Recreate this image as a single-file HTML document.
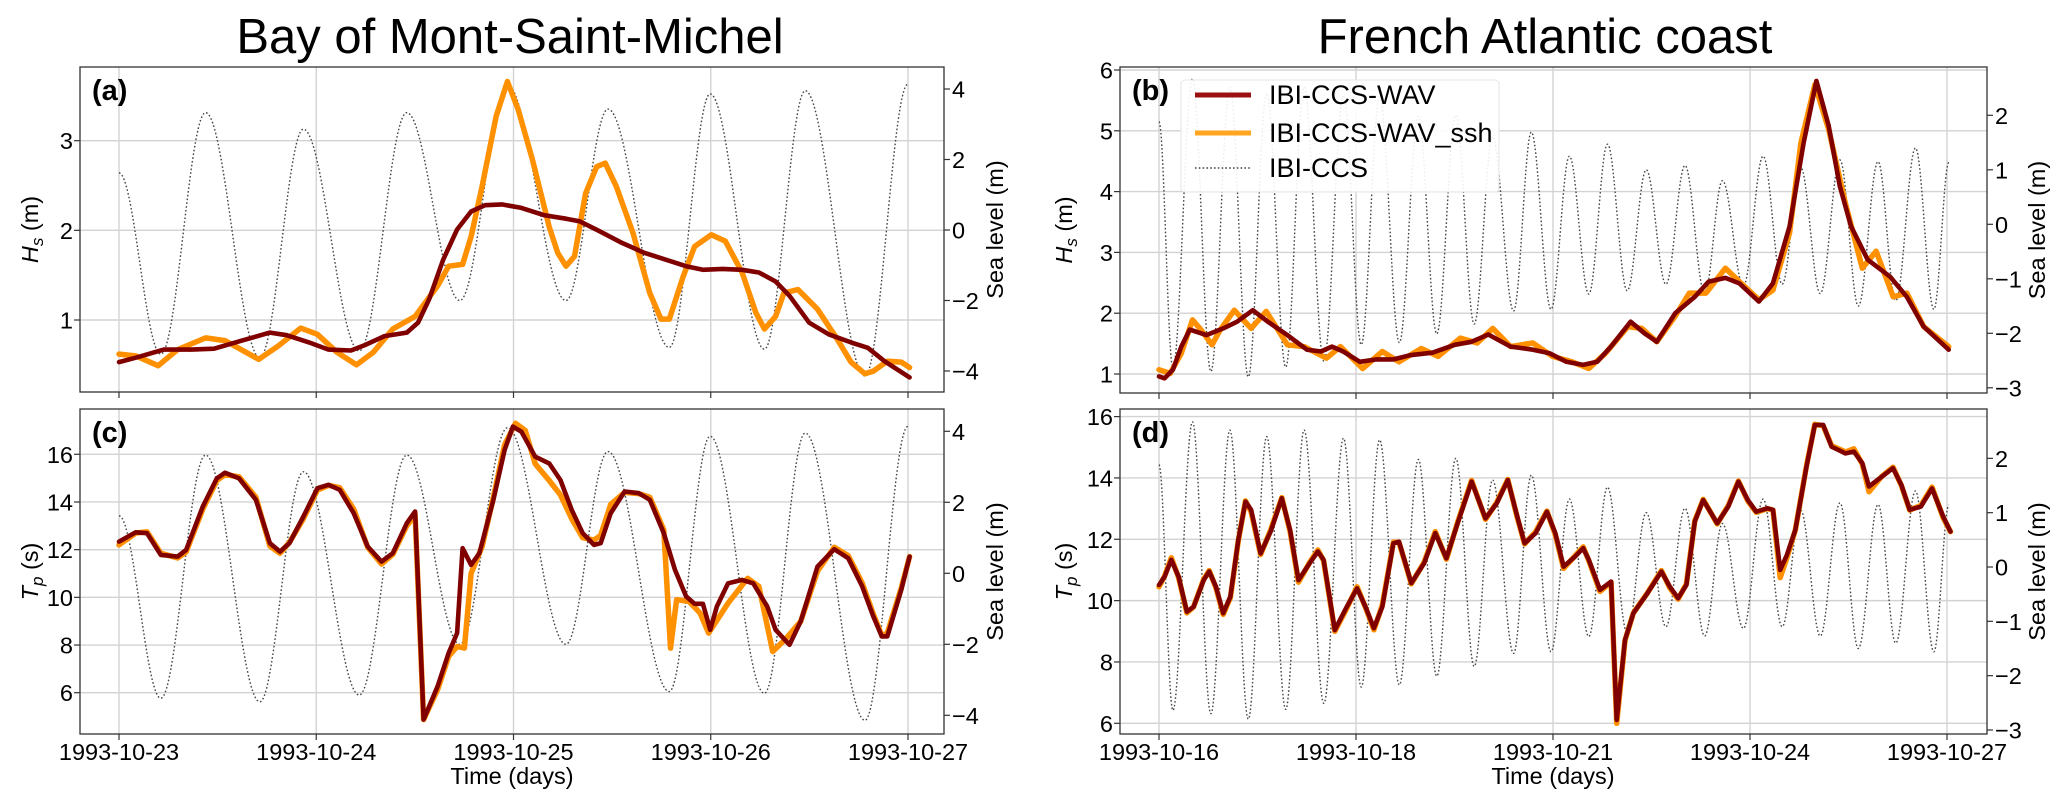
<!DOCTYPE html>
<html><head><meta charset="utf-8"><style>
html,body{margin:0;padding:0;background:#fff}
svg{display:block;font-family:"Liberation Sans",sans-serif}
</style></head><body>
<svg id="fig" width="2067" height="809" viewBox="0 0 2067 809" xmlns="http://www.w3.org/2000/svg">
<text x="510" y="53" font-size="49" text-anchor="middle">Bay of Mont-Saint-Michel</text>
<text x="1545" y="53" font-size="49" text-anchor="middle">French Atlantic coast</text>
<text x="512" y="784" font-size="23.5" text-anchor="middle">Time (days)</text>
<text x="1553" y="784" font-size="23.5" text-anchor="middle">Time (days)</text>
</svg>
<script>
// ---- data ----
const ticksA=["1993-10-23","1993-10-24","1993-10-25","1993-10-26","1993-10-27"];
const ticksB=["1993-10-16","1993-10-18","1993-10-21","1993-10-24","1993-10-27"];
const tideAt=[0,0.212,0.439,0.714,0.935,1.218,1.459,1.728,1.97,2.266,2.479,2.79,2.997,3.272,3.479,3.782,4.0];
const tideAv=[1.62,-3.52,3.33,-3.62,2.86,-3.43,3.33,-2.0,4.1,-2.0,3.43,-3.33,3.86,-3.38,3.95,-4.14,4.14];
const hsAssh_t=[0,0.085,0.198,0.297,0.439,0.538,0.708,0.807,0.921,1.006,1.105,1.204,1.289,1.388,1.501,1.615,1.671,1.742,1.785,1.841,1.912,1.969,2.025,2.096,2.181,2.224,2.266,2.309,2.365,2.422,2.465,2.521,2.606,2.691,2.748,2.79,2.861,2.918,3.003,3.074,3.159,3.229,3.272,3.329,3.371,3.442,3.541,3.64,3.711,3.782,3.824,3.895,3.966,4.008];
const hsAssh_v=[0.62,0.6,0.49,0.67,0.8,0.77,0.56,0.71,0.91,0.84,0.64,0.5,0.64,0.9,1.04,1.38,1.6,1.62,1.93,2.49,3.27,3.66,3.34,2.79,2.04,1.75,1.6,1.71,2.41,2.71,2.75,2.49,1.97,1.3,1.01,1.01,1.49,1.82,1.95,1.88,1.53,1.08,0.9,1.04,1.3,1.34,1.12,0.79,0.53,0.4,0.43,0.54,0.53,0.47];
const hsAwav_t=[0,0.085,0.227,0.368,0.482,0.623,0.765,0.85,0.963,1.062,1.176,1.246,1.346,1.459,1.516,1.572,1.643,1.714,1.785,1.856,1.941,2.04,2.153,2.266,2.337,2.436,2.55,2.663,2.776,2.875,2.96,3.059,3.159,3.244,3.329,3.399,3.499,3.598,3.711,3.796,3.881,4.008];
const hsAwav_v=[0.53,0.58,0.67,0.67,0.68,0.77,0.86,0.83,0.75,0.67,0.66,0.72,0.82,0.86,0.97,1.23,1.67,2.01,2.21,2.28,2.29,2.25,2.17,2.13,2.1,1.99,1.86,1.75,1.67,1.6,1.56,1.57,1.56,1.53,1.43,1.27,0.97,0.84,0.75,0.69,0.54,0.36];
const tpCwav_t=[0,0.085,0.142,0.212,0.297,0.34,0.425,0.496,0.538,0.609,0.694,0.765,0.816,0.864,0.935,1.006,1.062,1.119,1.19,1.261,1.331,1.388,1.459,1.501,1.521,1.544,1.615,1.671,1.714,1.742,1.785,1.827,1.898,1.955,1.997,2.04,2.11,2.181,2.238,2.295,2.351,2.408,2.442,2.493,2.564,2.635,2.691,2.762,2.819,2.875,2.918,2.96,2.997,3.031,3.088,3.159,3.215,3.286,3.329,3.399,3.456,3.541,3.626,3.697,3.768,3.824,3.867,3.895,3.966,4.008];
const tpCwav_v=[12.34,12.73,12.69,11.78,11.71,11.99,13.81,14.99,15.23,14.99,14.09,12.27,11.92,12.27,13.39,14.58,14.72,14.51,13.53,12.13,11.5,11.85,13.11,13.6,9.62,4.87,6.27,7.66,8.5,12.06,11.36,11.85,14.09,16.18,17.16,16.95,15.9,15.62,14.92,13.67,12.69,12.2,12.27,13.53,14.44,14.37,14.09,12.69,11.15,10.04,9.73,9.73,8.64,9.62,10.59,10.73,10.59,9.62,8.64,8.01,8.99,11.29,12.02,11.64,10.46,9.2,8.36,8.36,10.32,11.71];
const tpCssh_t=[0,0.085,0.142,0.212,0.297,0.34,0.425,0.496,0.538,0.609,0.694,0.765,0.816,0.864,0.935,1.006,1.062,1.119,1.19,1.261,1.331,1.388,1.459,1.501,1.544,1.615,1.671,1.714,1.751,1.785,1.841,1.898,1.955,2.01,2.06,2.11,2.181,2.238,2.295,2.351,2.408,2.442,2.493,2.564,2.635,2.691,2.762,2.796,2.827,2.889,2.946,2.989,3.088,3.187,3.244,3.314,3.376,3.456,3.541,3.626,3.697,3.768,3.824,3.867,3.895,3.966,4.008];
const tpCssh_v=[12.2,12.7,12.75,11.85,11.65,11.9,13.7,14.9,15.15,15.05,14.2,12.15,11.85,12.3,13.3,14.5,14.7,14.6,13.7,12.1,11.4,11.8,13.0,13.46,4.87,6.13,7.52,7.94,7.87,11.01,12.13,14.2,16.4,17.3,17.0,15.6,14.9,14.3,13.3,12.5,12.4,12.6,13.9,14.4,14.35,14.2,12.83,7.87,9.9,9.83,9.34,8.5,9.76,10.8,10.46,7.73,8.22,8.99,11.1,12.1,11.75,10.6,9.3,8.4,8.5,10.4,11.71];
const tideBt=[0,0.212,0.51,0.79,1.08,1.36,1.64,1.93,2.21,2.51,2.81,3.08,3.36,3.66,3.95,4.23,4.52,4.8,5.08,5.4,5.67,5.97,6.25,6.545,6.83,7.13,7.42,7.72,8.01,8.31,8.58,8.9,9.2,9.49,9.77,10.07,10.37,10.65,10.95,11.22,11.52,11.8,12.03];
const tideBv=[1.88,-2.64,2.67,-2.7,2.52,-2.8,2.4,-2.62,2.52,-2.51,2.37,-2.21,2.34,-2.17,1.98,-2.01,2.0,-1.83,1.6,-1.59,1.69,-1.56,1.25,-1.28,1.47,-1.22,1.0,-1.1,1.08,-1.27,0.8,-1.13,1.25,-1.1,1.05,-1.27,1.18,-1.5,1.15,-1.4,1.4,-1.56,1.14];
const hsBwav_t=[0,0.085,0.212,0.34,0.467,0.722,0.977,1.19,1.428,1.657,1.955,2.252,2.465,2.635,2.805,3.059,3.314,3.569,3.824,4.164,4.504,4.759,5.014,5.354,5.694,5.949,6.204,6.459,6.671,6.884,7.181,7.394,7.581,7.861,8.159,8.371,8.626,8.839,9.136,9.348,9.603,9.816,10.011,10.198,10.368,10.538,10.793,11.133,11.388,11.643,12.026];
const hsBwav_v=[0.96,0.93,1.07,1.45,1.73,1.64,1.75,1.86,2.05,1.86,1.64,1.4,1.37,1.45,1.37,1.2,1.24,1.24,1.31,1.35,1.48,1.53,1.65,1.45,1.4,1.34,1.2,1.15,1.2,1.45,1.86,1.67,1.53,2.0,2.27,2.52,2.58,2.49,2.19,2.49,3.43,4.8,5.82,5.08,4.09,3.43,2.88,2.6,2.27,1.78,1.4];
const hsBssh_t=[0,0.17,0.34,0.51,0.637,0.807,0.935,1.147,1.402,1.632,1.955,2.21,2.55,2.762,3.102,3.4,3.655,3.995,4.25,4.59,4.845,5.083,5.354,5.694,5.992,6.29,6.545,6.8,7.14,7.352,7.581,7.861,8.075,8.33,8.626,8.839,9.136,9.348,9.603,9.775,9.988,10.198,10.453,10.71,10.92,11.18,11.39,11.645,12.026];
const hsBssh_v=[1.07,1.01,1.34,1.89,1.73,1.48,1.73,2.05,1.75,2.03,1.48,1.45,1.26,1.45,1.09,1.37,1.2,1.42,1.29,1.59,1.51,1.75,1.45,1.51,1.29,1.2,1.09,1.34,1.78,1.75,1.53,1.95,2.33,2.33,2.74,2.52,2.22,2.38,3.32,4.8,5.76,5.02,3.81,2.74,3.02,2.27,2.33,1.78,1.45];
const tpD_t=[0,0.085,0.187,0.298,0.425,0.527,0.68,0.765,0.867,0.977,1.088,1.207,1.317,1.402,1.547,1.7,1.87,1.997,2.125,2.295,2.42,2.507,2.677,2.847,3.017,3.145,3.272,3.4,3.57,3.655,3.842,4.037,4.207,4.377,4.547,4.76,4.972,5.142,5.312,5.457,5.567,5.737,5.907,6.035,6.162,6.332,6.46,6.545,6.715,6.885,6.97,7.097,7.225,7.437,7.65,7.777,7.905,8.032,8.16,8.287,8.5,8.67,8.823,8.967,9.095,9.265,9.35,9.46,9.562,9.69,9.86,9.987,10.115,10.242,10.455,10.582,10.71,10.812,11.007,11.177,11.305,11.432,11.602,11.772,11.942,12.053];
const tpDwav_v=[10.51,10.78,11.33,10.78,9.64,9.8,10.67,10.95,10.46,9.59,10.13,11.98,13.23,12.96,11.54,12.25,13.34,12.3,10.67,11.22,11.6,11.33,9.04,9.75,10.4,9.8,9.1,9.8,11.87,11.92,10.57,11.22,12.2,11.38,12.52,13.88,12.68,13.17,13.93,12.74,11.87,12.2,12.9,12.2,11.11,11.43,11.71,11.33,10.35,10.62,6.11,8.72,9.59,10.24,10.95,10.46,10.08,10.51,12.58,13.28,12.52,13.07,13.88,13.28,12.9,13.01,12.96,11.0,11.49,12.3,14.37,15.73,15.73,15.02,14.8,14.86,14.48,13.72,14.04,14.32,13.77,12.96,13.07,13.66,12.74,12.25];
const tpDssh_v=[10.45,10.8,11.4,10.75,9.6,9.8,10.7,10.98,10.42,9.55,10.1,11.95,13.25,12.9,11.5,12.3,13.36,12.25,10.6,11.25,11.65,11.3,9.0,9.7,10.45,9.78,9.05,9.85,11.9,11.9,10.55,11.25,12.25,11.35,12.55,13.92,12.65,13.2,13.95,12.7,11.85,12.25,12.92,12.15,11.05,11.45,11.75,11.3,10.3,10.6,6.0,8.7,9.6,10.25,10.98,10.42,10.05,10.55,12.6,13.3,12.5,13.1,13.9,13.25,12.88,13.0,12.95,10.75,11.4,12.3,14.4,15.75,15.7,15.05,14.85,14.95,14.45,13.55,14.05,14.35,13.75,12.95,13.1,13.7,12.7,12.25];

// ---- drawing ----
const NS="http://www.w3.org/2000/svg";
const svg=document.getElementById('fig');
function mk(tag,at,parent){const e=document.createElementNS(NS,tag);for(const k in at)e.setAttribute(k,at[k]);(parent||svg).appendChild(e);return e;}
const ORANGE="#ff9000", RED="#800000";
const FS=23.5;

function panel(cfg){
  const g=mk('g',{});
  
  
  const {L,R,T,B,x0,x1,xt0,xt1}=cfg;
  const xs=d=>xt0+(d-x0)/(x1-x0)*(xt1-xt0);
  const ys=v=>cfg.yPx0+(v-cfg.yV0)*cfg.yK;
  const ys2=v=>cfg.sPx0-v*cfg.sK;
  const cp=mk('clipPath',{id:'clip-'+cfg.name},g);
  mk('rect',{x:L,y:T,width:R-L,height:B-T},cp);
  for(let i=0;i<cfg.xticks.length;i++){
    const x=xs(x0+i*(x1-x0)/(cfg.xticks.length-1));
    const gl=mk('line',{x1:x,x2:x,y1:T,y2:B,stroke:'#d3d3d3','stroke-width':1.4},g);
    
    
    mk('line',{x1:x,x2:x,y1:B,y2:B+6,stroke:'#333','stroke-width':1.2},g);
    if(cfg.showX){
      const t=mk('text',{x:x,y:760,'font-size':FS,'text-anchor':'middle'},g);
      t.textContent=cfg.xticks[i];
      
      
    }
  }
  cfg.yticks.forEach(v=>{
    const y=ys(v);
    const gl=mk('line',{x1:L,x2:R,y1:y,y2:y,stroke:'#d3d3d3','stroke-width':1.4},g);
    
    
    mk('line',{x1:L-6,x2:L,y1:y,y2:y,stroke:'#333','stroke-width':1.2},g);
    const t=mk('text',{x:L-7,y:y+8.5,'font-size':FS,'text-anchor':'end'},g);
    t.textContent=String(v);
    
    
  });
  cfg.sticks.forEach(v=>{
    const y=ys2(v);
    mk('line',{x1:R,x2:R+6,y1:y,y2:y,stroke:'#333','stroke-width':1.2},g);
    const t=mk('text',{x:R+8,y:y+8.5,'font-size':FS},g);
    t.textContent=(v<0?'\u2212':'')+Math.abs(v);
    
    
  });
  let d='';
  for(let i=0;i<cfg.tideT.length;i++){
    const x=xs(cfg.tideT[i]),y=ys2(cfg.tideV[i]);
    if(i===0)d+='M'+x+','+y;else{const px=xs(cfg.tideT[i-1]),py=ys2(cfg.tideV[i-1]);const dx=(x-px)*0.36;d+='C'+(px+dx)+','+py+' '+(x-dx)+','+y+' '+x+','+y;}
  }
  const tide=mk('path',{d:d,fill:'none',stroke:'#444','stroke-width':1.4,'stroke-dasharray':'1.6,2.2','clip-path':'url(#clip-'+cfg.name+')'},g);
  
  
  function line(ts,vs,col,w,nm){
    const pts=ts.map((t,i)=>xs(t).toFixed(1)+','+ys(vs[i]).toFixed(1)).join(' ');
    const p=mk('polyline',{points:pts,fill:'none',stroke:col,'stroke-width':w,'stroke-linejoin':'round','stroke-linecap':'round','clip-path':'url(#clip-'+cfg.name+')'},g);
    
    
  }
  line(cfg.sshT,cfg.sshV,ORANGE,5.5,'ibi-ccs-wav-ssh-line');
  line(cfg.wavT,cfg.wavV,RED,4.6,'ibi-ccs-wav-line');
  const fr=mk('rect',{x:L,y:T,width:R-L,height:B-T,fill:'none',stroke:'#333','stroke-width':1.3},g);
  
  
  const lb=mk('text',{x:L+12,y:T+33,'font-size':29,'font-weight':'bold'},g);
  lb.textContent=cfg.label;
  
  
  const yl=mk('text',{x:0,y:0,'font-size':FS,'text-anchor':'middle',transform:'translate('+cfg.ylx+','+((T+B)/2)+') rotate(-90)'},g);
  yl.innerHTML=cfg.ylab;
  
  
  const sl=mk('text',{x:0,y:0,'font-size':FS,'text-anchor':'middle',transform:'translate('+cfg.slx+','+((T+B)/2)+') rotate(-90)'},g);
  sl.textContent='Sea level (m)';
  
  
  return g;
}
const HS='<tspan font-style="italic">H</tspan><tspan font-style="italic" font-size="17" dy="5">s</tspan><tspan dy="-5"> (m)</tspan>';
const TP='<tspan font-style="italic">T</tspan><tspan font-style="italic" font-size="17" dy="5">p</tspan><tspan dy="-5"> (s)</tspan>';
const A={L:80,R:944,xt0:119,xt1:908,x0:0,x1:4,xticks:ticksA,tideT:tideAt,tideV:tideAv,slx:1003,ylx:38};
const Bc={L:1120,R:1987,xt0:1159,xt1:1947,x0:0,x1:12,xticks:ticksB,tideT:tideBt,tideV:tideBv,slx:2045,ylx:1072};
panel(Object.assign({},A,{name:'panel-a',T:67,B:392,label:'(a)',ylab:HS,yPx0:320,yV0:1,yK:-89.65,sPx0:230,sK:35.25,yticks:[1,2,3],sticks:[-4,-2,0,2,4],sshT:hsAssh_t,sshV:hsAssh_v,wavT:hsAwav_t,wavV:hsAwav_v,showX:false}));
panel(Object.assign({},A,{name:'panel-c',T:409,B:734,label:'(c)',ylab:TP,yPx0:692.7,yV0:6,yK:-23.84,sPx0:573.3,sK:35.5,yticks:[6,8,10,12,14,16],sticks:[-4,-2,0,2,4],sshT:tpCssh_t,sshV:tpCssh_v,wavT:tpCwav_t,wavV:tpCwav_v,showX:true}));
panel(Object.assign({},Bc,{name:'panel-b',T:67,B:393,label:'(b)',ylab:HS,yPx0:374,yV0:1,yK:-60.8,sPx0:224.3,sK:54.5,yticks:[1,2,3,4,5,6],sticks:[-3,-2,-1,0,1,2],sshT:hsBssh_t,sshV:hsBssh_v,wavT:hsBwav_t,wavV:hsBwav_v,showX:false}));
panel(Object.assign({},Bc,{name:'panel-d',T:409,B:734,label:'(d)',ylab:TP,yPx0:723.3,yV0:6,yK:-30.67,sPx0:567,sK:54.33,yticks:[6,8,10,12,14,16],sticks:[-3,-2,-1,0,1,2],sshT:tpD_t,sshV:tpDssh_v,wavT:tpD_t,wavV:tpDwav_v,showX:true}));

const lg=mk('g',{});


mk('rect',{x:1181,y:80,width:318,height:112,rx:4,fill:'#fff','fill-opacity':0.9,stroke:'#e6e6e6'},lg);
const leg=[['IBI-CCS-WAV','#9b1010',5,null,95],['IBI-CCS-WAV_ssh','#ffa520',5,null,133],['IBI-CCS','#444',1.4,'1.6,2.2',168]];
leg.forEach(e=>{
  const ent=mk('g',{},lg);
  
  
  const a={x1:1195,x2:1251,y1:e[4],y2:e[4],stroke:e[1],'stroke-width':e[2]};
  if(e[3])a['stroke-dasharray']=e[3];
  mk('line',a,ent);
  const t=mk('text',{x:1269,y:e[4]+9,'font-size':27},ent);
  t.textContent=e[0];
});
</script>
</body></html>
